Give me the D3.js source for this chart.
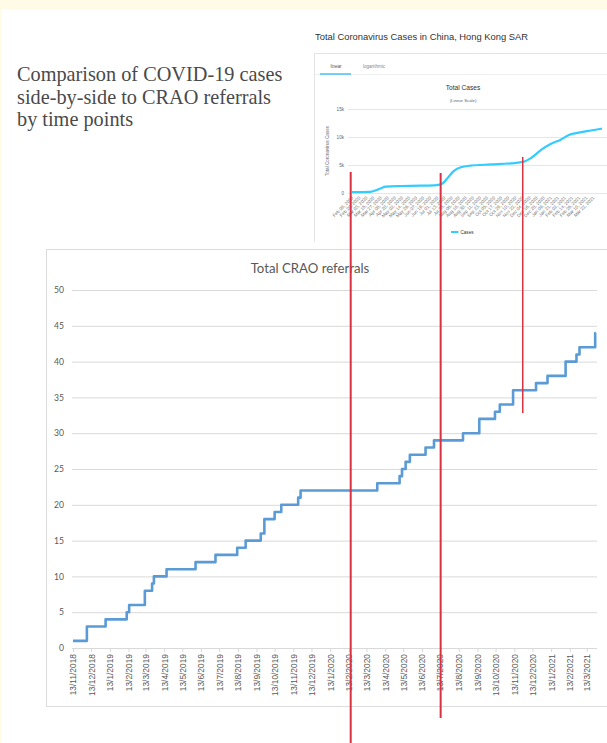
<!DOCTYPE html>
<html>
<head>
<meta charset="utf-8">
<script src="https://cdn.jsdelivr.net/npm/d3@7"></script>
<style>
  body { margin: 0; background: #fff; }
  svg { display: block; }
</style>
</head>
<body>
<script>
// ---- CRAO referrals: cumulative total, stepping up on each referral date ----
const referralDates = ["2018-11-13","2018-12-06","2019-01-06","2019-02-10","2019-02-14","2019-03-12","2019-03-24","2019-03-27","2019-04-17","2019-06-04",
  "2019-07-07","2019-08-12","2019-08-26","2019-09-20","2019-09-26","2019-10-13","2019-10-24","2019-11-21","2019-11-25","2020-03-31",
  "2020-05-07","2020-05-11","2020-05-17","2020-05-24","2020-06-19","2020-07-03","2020-08-20","2020-09-16","2020-10-12","2020-10-20",
  "2020-11-11","2020-12-19","2021-01-07","2021-02-06","2021-02-24","2021-03-01","2021-03-27","2021-03-28"];
const referralTotals = [1,3,4,5,6,8,9,10,11,12,
  13,14,15,16,18,19,20,21,22,23,
  24,25,26,27,28,29,30,32,33,34,
  36,37,38,40,41,42,44,44];

const referralTickLabels = ["13/11/2018","13/12/2018","13/1/2019","13/2/2019","13/3/2019","13/4/2019","13/5/2019","13/6/2019","13/7/2019",
  "13/8/2019","13/9/2019","13/10/2019","13/11/2019","13/12/2019","13/1/2020","13/2/2020","13/3/2020","13/4/2020","13/5/2020",
  "13/6/2020","13/7/2020","13/8/2020","13/9/2020","13/10/2020","13/11/2020","13/12/2020","13/1/2021","13/2/2021","13/3/2021"];
const referralYTicks = [0,5,10,15,20,25,30,35,40,45,50];

// ---- Hong Kong total coronavirus cases ----
const caseDates = ["2020-02-08","2020-03-10","2020-03-27","2020-04-05","2020-04-30","2020-06-03","2020-06-30","2020-07-10","2020-07-19","2020-07-29",
  "2020-08-10","2020-08-27","2020-09-30","2020-11-03","2020-11-25","2020-12-07","2020-12-24","2021-01-09","2021-01-26","2021-02-09",
  "2021-02-21","2021-03-09","2021-03-26","2021-04-06"];
const caseTotals = [150,200,800,1150,1250,1300,1400,1700,2700,3900,
  4600,4900,5100,5300,5600,6250,7700,8750,9500,10350,
  10700,11000,11300,11500];

const caseTickLabels = ["Feb 08, 2020","Feb 20, 2020","Mar 03, 2020","Mar 15, 2020","Mar 27, 2020","Apr 08, 2020","Apr 20, 2020","May 02, 2020",
  "May 14, 2020","May 26, 2020","Jun 07, 2020","Jun 19, 2020","Jul 01, 2020","Jul 13, 2020","Jul 25, 2020","Aug 06, 2020","Aug 18, 2020",
  "Aug 30, 2020","Sep 11, 2020","Sep 23, 2020","Oct 05, 2020","Oct 17, 2020","Oct 29, 2020","Nov 10, 2020","Nov 22, 2020","Dec 04, 2020",
  "Dec 16, 2020","Dec 28, 2020","Jan 09, 2021","Jan 21, 2021","Feb 02, 2021","Feb 14, 2021","Feb 26, 2021","Mar 10, 2021","Mar 22, 2021"];
const caseYTicks = [0,5000,10000,15000];
const caseYTickLabels = ["0","5k","10k","15k"];

// ---- Time points marked across both charts ----
const markerDates = ["2020-02-16","2020-07-14","2020-11-27"];

// ------------------------------------------------------------------
const W = 607, H = 743;
const parseISO = d3.timeParse("%Y-%m-%d");
const parseDMY = d3.timeParse("%d/%m/%Y");
const parseCase = d3.timeParse("%b %d, %Y");

const svg = d3.select("body").append("svg").attr("width", W).attr("height", H);

// page background
svg.append("rect").attr("width", W).attr("height", H).attr("fill", "#fff");
svg.append("rect").attr("width", W).attr("height", 9.5).attr("fill", "#fffbe6");
svg.append("rect").attr("width", 1.5).attr("height", H).attr("fill", "#fffbe6");

// heading
const heading = ["Comparison of COVID-19 cases", "side-by-side to CRAO referrals", "by time points"];
svg.append("g").selectAll("text").data(heading).join("text")
  .attr("x", 17).attr("y", (d, i) => 81 + i * 22.5)
  .attr("font-family", "'Liberation Serif', serif")
  .attr("font-size", 20.3).attr("fill", "#4a4a4a")
  .text(d => d);

// ================= Hong Kong cases panel =================
const inset = svg.append("g");
inset.append("text").attr("x", 315).attr("y", 40)
  .attr("font-family", "'Liberation Sans', Arial, sans-serif").attr("font-size", 9.4).attr("fill", "#333")
  .text("Total Coronavirus Cases in China, Hong Kong SAR");
inset.append("path").attr("d", "M314.5,242V53.5H612").attr("fill", "none").attr("stroke", "#e4e4e4");
inset.append("line").attr("x1", 315).attr("x2", 612).attr("y1", 74.5).attr("y2", 74.5).attr("stroke", "#efefef");
inset.append("line").attr("x1", 320).attr("x2", 351).attr("y1", 74).attr("y2", 74).attr("stroke", "#4fc3f7").attr("stroke-width", 1.6);
inset.append("text").attr("x", 336).attr("y", 67.5).attr("text-anchor", "middle")
  .attr("font-family", "'Liberation Sans', sans-serif").attr("font-size", 4.6).attr("fill", "#555").text("linear");
inset.append("text").attr("x", 374).attr("y", 67.5).attr("text-anchor", "middle")
  .attr("font-family", "'Liberation Sans', sans-serif").attr("font-size", 4.6).attr("fill", "#888").text("logarithmic");
inset.append("text").attr("x", 463).attr("y", 89.5).attr("text-anchor", "middle")
  .attr("font-family", "'Liberation Sans', sans-serif").attr("font-size", 6.6).attr("fill", "#333").text("Total Cases");
inset.append("text").attr("x", 463).attr("y", 101.5).attr("text-anchor", "middle")
  .attr("font-family", "'Liberation Sans', sans-serif").attr("font-size", 4.3).attr("fill", "#666").text("(Linear Scale)");

const cx = d3.scaleTime().domain([parseISO("2020-02-08"), parseISO("2021-04-06")]).range([352, 602]);
const cy = d3.scaleLinear().domain([0, 15000]).range([193, 109]);

inset.append("g").attr("transform", "translate(348,0)")
  .call(d3.axisLeft(cy).tickValues(caseYTicks).tickSize(-262).tickFormat((d, i) => caseYTickLabels[i]))
  .call(g => g.select(".domain").remove())
  .call(g => g.selectAll(".tick line").attr("stroke", "#e6e6e6"))
  .call(g => g.selectAll(".tick text").attr("x", -4).attr("fill", "#666")
    .attr("font-family", "'Liberation Sans', sans-serif").attr("font-size", 4.6));

inset.append("text").attr("transform", "translate(329,151) rotate(-90)").attr("text-anchor", "middle")
  .attr("font-family", "'Liberation Sans', sans-serif").attr("font-size", 4.6).attr("fill", "#666")
  .text("Total Coronavirus Cases");

inset.append("g").attr("transform", "translate(0,193)")
  .call(d3.axisBottom(cx).tickValues(caseTickLabels.map(parseCase)).tickSize(0).tickFormat((d, i) => caseTickLabels[i]))
  .call(g => g.select(".domain").remove())
  .call(g => g.selectAll(".tick text").attr("text-anchor", "end")
    .attr("transform", "translate(0,4) rotate(-45)").attr("dy", "0.35em").attr("y", 0).attr("x", 0)
    .attr("fill", "#6f6f6f").attr("font-family", "'Liberation Sans', sans-serif").attr("font-size", 4.6));

const caseRows = caseDates.map((d, i) => ({ date: parseISO(d), value: caseTotals[i] }));
inset.append("path").datum(caseRows)
  .attr("fill", "none").attr("stroke", "#33ccff").attr("stroke-width", 2.2).attr("stroke-linejoin", "round")
  .attr("d", d3.line().x(d => cx(d.date)).y(d => cy(d.value)).curve(d3.curveMonotoneX));

inset.append("line").attr("x1", 451).attr("x2", 458.5).attr("y1", 232).attr("y2", 232)
  .attr("stroke", "#33ccff").attr("stroke-width", 2);
inset.append("text").attr("x", 460.5).attr("y", 233.6)
  .attr("font-family", "'Liberation Sans', sans-serif").attr("font-size", 4.6).attr("fill", "#333").text("Cases");

// ================= CRAO referrals panel =================
const main = svg.append("g");
main.append("rect").attr("x", 46.5).attr("y", 249.5).attr("width", 570).attr("height", 457)
  .attr("fill", "#fff").attr("stroke", "#dcdcdc");
main.append("text").attr("x", 310).attr("y", 272.5).attr("text-anchor", "middle")
  .attr("font-family", "Lato, 'Liberation Sans', sans-serif").attr("font-size", 13.2).attr("fill", "#595959")
  .text("Total CRAO referrals");

const x = d3.scaleTime().domain([parseISO("2018-11-13"), parseISO("2021-03-30")]).range([73, 597]);
const y = d3.scaleLinear().domain([0, 50]).range([648, 290]);

main.append("g").attr("transform", "translate(72,0)")
  .call(d3.axisLeft(y).tickValues(referralYTicks).tickSize(-525).tickFormat(d3.format("d")))
  .call(g => g.select(".domain").remove())
  .call(g => g.selectAll(".tick line").attr("stroke", "#d9d9d9"))
  .call(g => g.selectAll(".tick text").attr("x", -8).attr("fill", "#595959")
    .attr("font-family", "Lato, 'Liberation Sans', sans-serif").attr("font-size", 8.6));

main.append("g").attr("transform", "translate(0,648)")
  .call(d3.axisBottom(x).tickValues(referralTickLabels.map(parseDMY)).tickSize(4).tickFormat((d, i) => referralTickLabels[i]))
  .call(g => g.select(".domain").attr("stroke", "#d9d9d9").attr("d", "M72,0.5H597"))
  .call(g => g.selectAll(".tick line").attr("stroke", "#d9d9d9"))
  .call(g => g.selectAll(".tick text").attr("text-anchor", "end")
    .attr("transform", "rotate(-90)").attr("x", -6).attr("y", 0).attr("dy", "0.35em")
    .attr("fill", "#595959").attr("font-family", "'Liberation Sans', sans-serif").attr("font-size", 8.4));

const refRows = referralDates.map((d, i) => ({ date: parseISO(d), value: referralTotals[i] }));
main.append("path").datum(refRows)
  .attr("fill", "none").attr("stroke", "#5b9bd5").attr("stroke-width", 2.6).attr("stroke-linejoin", "round")
  .attr("d", d3.line().x(d => x(d.date)).y(d => y(d.value)).curve(d3.curveStepAfter));

// ================= time-point markers across both panels =================
const markerSpan = [[172, 743], [173, 718], [157, 413]];
svg.append("g").selectAll("line").data(markerDates).join("line")
  .attr("x1", d => x(parseISO(d))).attr("x2", d => x(parseISO(d)))
  .attr("y1", (d, i) => markerSpan[i][0]).attr("y2", (d, i) => markerSpan[i][1])
  .attr("stroke", "#d9313f").attr("stroke-width", (d, i) => i === 2 ? 1.5 : 2);
</script>
</body>
</html>
